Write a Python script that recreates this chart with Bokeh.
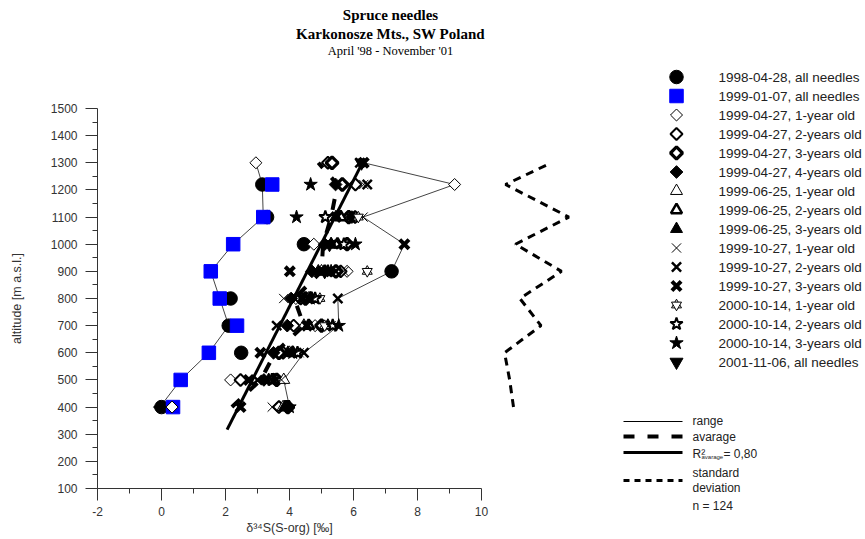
import numpy as np
from bokeh.plotting import figure
from bokeh.models import Range1d, FixedTicker, Label, CustomJSTickFormatter
from bokeh.embed import file_html
from bokeh.resources import INLINE

nan = float("nan")

# ---------------- data ----------------
altitude = [400, 500, 600, 700, 800, 900, 1000, 1100, 1220, 1300]

s1998_04_28_all = [0.00, nan, 2.49, 2.10, 2.16, 7.19, 4.45, 3.30, 3.15, nan]
s1999_01_07_all = [0.36, 0.60, 1.48, 2.36, 1.82, 1.54, 2.24, 3.18, 3.46, nan]
s1999_04_27_1y = [0.33, 2.16, nan, 4.80, 4.20, 5.80, 4.76, nan, 9.16, 2.95]
s1999_04_27_2y = [3.67, 2.47, 3.80, 4.13, 4.35, 5.60, nan, 6.05, 6.06, 5.20]
s1999_04_27_3y = [3.95, 3.60, 3.67, 5.00, 4.50, 5.45, 5.80, 5.85, 5.65, 5.33]
s1999_04_27_4y = [-0.05, 3.20, 3.50, 3.93, 4.05, 4.70, 5.10, 5.95, 5.44, nan]
s1999_06_25_1y = [3.80, 3.82, 4.00, 4.45, 4.60, 5.00, 5.30, 5.50, nan, nan]
s1999_06_25_2y = [3.90, 3.50, 4.10, 4.60, 4.65, 5.10, 5.50, 5.60, nan, nan]
s1999_06_25_3y = [3.85, 3.35, 3.95, 5.20, 4.70, 4.90, 5.30, 5.45, nan, nan]
s1999_10_27_1y = [3.46, 3.75, 4.30, 5.30, 3.82, 5.70, 5.55, 6.30, 6.32, nan]
s1999_10_27_2y = [nan, 3.00, 4.45, 3.60, 5.51, 5.45, 5.60, 5.90, 6.43, 6.20]
s1999_10_27_3y = [2.47, 2.73, 3.09, 4.55, 4.40, 4.01, 7.59, 5.45, nan, 6.32]
s2000_10_14_1y = [nan, nan, nan, 5.10, 4.95, 6.43, nan, 6.15, nan, nan]
s2000_10_14_2y = [nan, 3.45, 4.25, 5.35, 4.80, 5.20, 5.70, 5.12, nan, nan]
s2000_10_14_3y = [4.00, 3.50, 4.10, 5.54, 4.65, 5.30, 6.06, 4.22, 4.66, nan]
s2001_11_06_all = [nan, nan, nan, nan, nan, 5.10, 5.25, nan, nan, 6.25]

series_labels = [
    "1998-04-28, all needles", "1999-01-07, all needles",
    "1999-04-27, 1-year old", "1999-04-27, 2-years old",
    "1999-04-27, 3-years old", "1999-04-27, 4-years old",
    "1999-06-25, 1-year old", "1999-06-25, 2-years old",
    "1999-06-25, 3-years old", "1999-10-27, 1-year old",
    "1999-10-27, 2-years old", "1999-10-27, 3-years old",
    "2000-10-14, 1-year old", "2000-10-14, 2-years old",
    "2000-10-14, 3-years old", "2001-11-06, all needles",
]
series_values = [
    s1998_04_28_all, s1999_01_07_all, s1999_04_27_1y, s1999_04_27_2y,
    s1999_04_27_3y, s1999_04_27_4y, s1999_06_25_1y, s1999_06_25_2y,
    s1999_06_25_3y, s1999_10_27_1y, s1999_10_27_2y, s1999_10_27_3y,
    s2000_10_14_1y, s2000_10_14_2y, s2000_10_14_3y, s2001_11_06_all,
]

# average per altitude, standard deviation (own hidden scale), regression
average = [2.20, 3.10, 3.55, 4.45, 4.15, 5.00, 5.05, 5.30, 5.50, 4.90]
std_dev = [1.00, 0.88, 0.72, 1.86, 1.20, 2.50, 1.06, 2.73, 0.75, 2.18]
reg_slope = 232.5        # m per permil
reg_intercept = -159.6   # m
reg_x_span = [2.05, 6.32]

x_ticks = [-2, 0, 2, 4, 6, 8, 10]
x_minor = [-1, 1, 3, 5, 7, 9]
y_ticks = list(range(100, 1501, 100))
y_minor = list(range(150, 1500, 100))

# ---------------- styles ----------------
K = "black"
W = "white"
D = np.pi / 4
styles = [
    [dict(marker="circle", size=13.5, fill_color=K, line_color=K)],
    [dict(marker="square", size=13.5, fill_color="#0000FF", line_color="#0000FF")],
    [dict(marker="square", size=8.5, angle=D, fill_color=W, line_color=K, line_width=1)],
    [dict(marker="square", size=8.5, angle=D, fill_color=W, line_color=K, line_width=2)],
    [dict(marker="square", size=8.5, angle=D, fill_color=W, line_color=K, line_width=3.2)],
    [dict(marker="square", size=9, angle=D, fill_color=K, line_color=K)],
    [dict(marker="triangle", size=12, fill_color=W, line_color=K, line_width=1)],
    [dict(marker="triangle", size=11, fill_color=W, line_color=K, line_width=2.5)],
    [dict(marker="triangle", size=12, fill_color=K, line_color=K)],
    [dict(marker="x", size=13, line_color=K, line_width=1)],
    [dict(marker="x", size=13, line_color=K, line_width=2.5)],
    [dict(marker="x", size=13, line_color=K, line_width=4)],
    [dict(marker="triangle", size=10, fill_color=W, line_color=K, line_width=1),
     dict(marker="inverted_triangle", size=10, fill_color=W, line_color=K, line_width=1)],
    [dict(marker="star", size=13, fill_color=W, line_color=K, line_width=2)],
    [dict(marker="star", size=14, fill_color=K, line_color=K)],
    [dict(marker="inverted_triangle", size=13, fill_color=K, line_color=K)],
]

FONT = "Liberation Sans"
TXT = "#222222"

# ---------------- figure (frame = whole canvas, axes at fixed locations) ----------------
WID, HEI = 865, 539
AX_LEFT_PX, AX_BOTTOM_PX = 97, 488     # page position of x=-2 and y=100
PX_X = 32.0                            # px per permil
PX_Y = 380.0 / 1400.0                  # px per metre
x0 = -2 - AX_LEFT_PX / PX_X
y0 = 100 - (HEI - AX_BOTTOM_PX) / PX_Y
p = figure(width=WID, height=HEI, output_backend="svg", toolbar_location=None,
           x_range=Range1d(x0, x0 + WID / PX_X),
           y_range=Range1d(y0, y0 + HEI / PX_Y),
           min_border=0, min_border_left=0, min_border_right=0,
           min_border_top=0, min_border_bottom=0)
p.outline_line_color = None
p.grid.visible = False
p.background_fill_color = "white"
p.border_fill_color = "white"
p.extra_x_ranges = {"px": Range1d(0, WID), "sd": Range1d(x0 - 10, x0 - 10 + WID / PX_X)}
p.extra_y_ranges = {"px": Range1d(0, HEI)}

for ax in (p.xaxis, p.yaxis):
    ax.axis_line_color = "#333333"
    ax.major_tick_line_color = "#333333"
    ax.minor_tick_line_color = "#333333"
    ax.major_tick_in = 0
    ax.major_tick_out = 12
    ax.minor_tick_in = 0
    ax.minor_tick_out = 5
    ax.major_label_text_font = FONT
    ax.major_label_text_font_size = "12px"
    ax.major_label_text_color = "#333333"
    ax.axis_label_text_font = FONT
    ax.axis_label_text_font_size = "12.5px"
    ax.axis_label_text_font_style = "normal"
    ax.axis_label_text_color = "#333333"
    ax.formatter = CustomJSTickFormatter(code="return String(tick)")
p.xaxis.fixed_location = 100
p.yaxis.fixed_location = -2
p.xaxis.bounds = (-2, 10)
p.yaxis.bounds = (100, 1500)
p.xaxis.ticker = FixedTicker(ticks=x_ticks, minor_ticks=x_minor)
p.yaxis.ticker = FixedTicker(ticks=y_ticks, minor_ticks=y_minor)
p.xaxis.major_label_standoff = 6
p.yaxis.major_label_standoff = 8
p.xaxis.axis_label = "δ³⁴S(S-org) [‰]"
p.yaxis.axis_label = "altitude [m a.s.l.]"
p.xaxis.axis_label_standoff = 2
p.yaxis.axis_label_standoff = 24

alt = np.array(altitude, dtype=float)
vals = np.array(series_values, dtype=float)

# range lines (min / max per altitude)
p.line(np.nanmin(vals, axis=0), alt, line_color="#444444", line_width=1)
p.line(np.nanmax(vals, axis=0), alt, line_color="#444444", line_width=1)

# markers
for v, st in zip(series_values, styles):
    v = np.array(v, dtype=float)
    m = ~np.isnan(v)
    for s in st:
        p.scatter(v[m], alt[m], **s)

# average, regression, standard deviation
p.line(average, altitude, line_color=K, line_width=4, line_dash="11 13")
rx = np.array(reg_x_span)
p.line(rx, reg_intercept + reg_slope * rx, line_color=K, line_width=3)
p.line(std_dev, altitude, x_range_name="sd", line_color=K, line_width=3,
       line_dash="8 6")


# ---------------- legend & texts (positions given in page pixels) ----------------
def sy(page_y):
    return HEI - page_y


LEG_MX, LEG_TX, LEG_Y0, LEG_DY = 676, 718, 76.5, 19.0
for i, (lab_txt, st) in enumerate(zip(series_labels, styles)):
    yy = sy(LEG_Y0 + i * LEG_DY)
    for s in st:
        p.scatter([LEG_MX], [yy], x_range_name="px", y_range_name="px", **s)
    p.add_layout(Label(x=LEG_TX, y=yy, x_units="screen", y_units="screen",
                       text=lab_txt, text_font=FONT, text_font_size="13.5px",
                       text_color=TXT, text_baseline="middle"))

LX0, LX1, LT = 623, 682, 692
p.line([LX0, LX1], [sy(421)] * 2, x_range_name="px", y_range_name="px",
       line_color=K, line_width=1)
p.line([LX0, LX1], [sy(436)] * 2, x_range_name="px", y_range_name="px",
       line_color=K, line_width=4, line_dash="11 13")
p.line([LX0, LX1], [sy(452)] * 2, x_range_name="px", y_range_name="px",
       line_color=K, line_width=3)
p.line([LX0, LX1], [sy(480)] * 2, x_range_name="px", y_range_name="px",
       line_color=K, line_width=3, line_dash="6 5")


def lab(text, x, page_y, size="12px", **kw):
    p.add_layout(Label(x=x, y=sy(page_y), x_units="screen", y_units="screen",
                       text=text, text_font=kw.pop("font", FONT),
                       text_font_size=size, text_color=kw.pop("color", TXT),
                       text_baseline=kw.pop("baseline", "middle"), **kw))


lab("range", LT, 420)
lab("avarage", LT, 436.5)
lab("R²", LT, 453)
lab("avarage", LT + 9, 456.5, size="6px")
lab("= 0,80", LT + 31, 453)
lab("standard", LT, 472.5)
lab("deviation", LT, 487.5)
lab("n = 124", LT, 505)

# titles
lab("Spruce needles", 390, 14, size="15px", font="Liberation Serif",
    color="black", text_align="center", text_font_style="bold")
lab("Karkonosze Mts., SW Poland", 390, 33, size="15px", font="Liberation Serif",
    color="black", text_align="center", text_font_style="bold")
lab("April '98 - November '01", 390, 50, size="12.5px", font="Liberation Serif",
    color="black", text_align="center")

open("out.html", "w").write(file_html(p, INLINE))
